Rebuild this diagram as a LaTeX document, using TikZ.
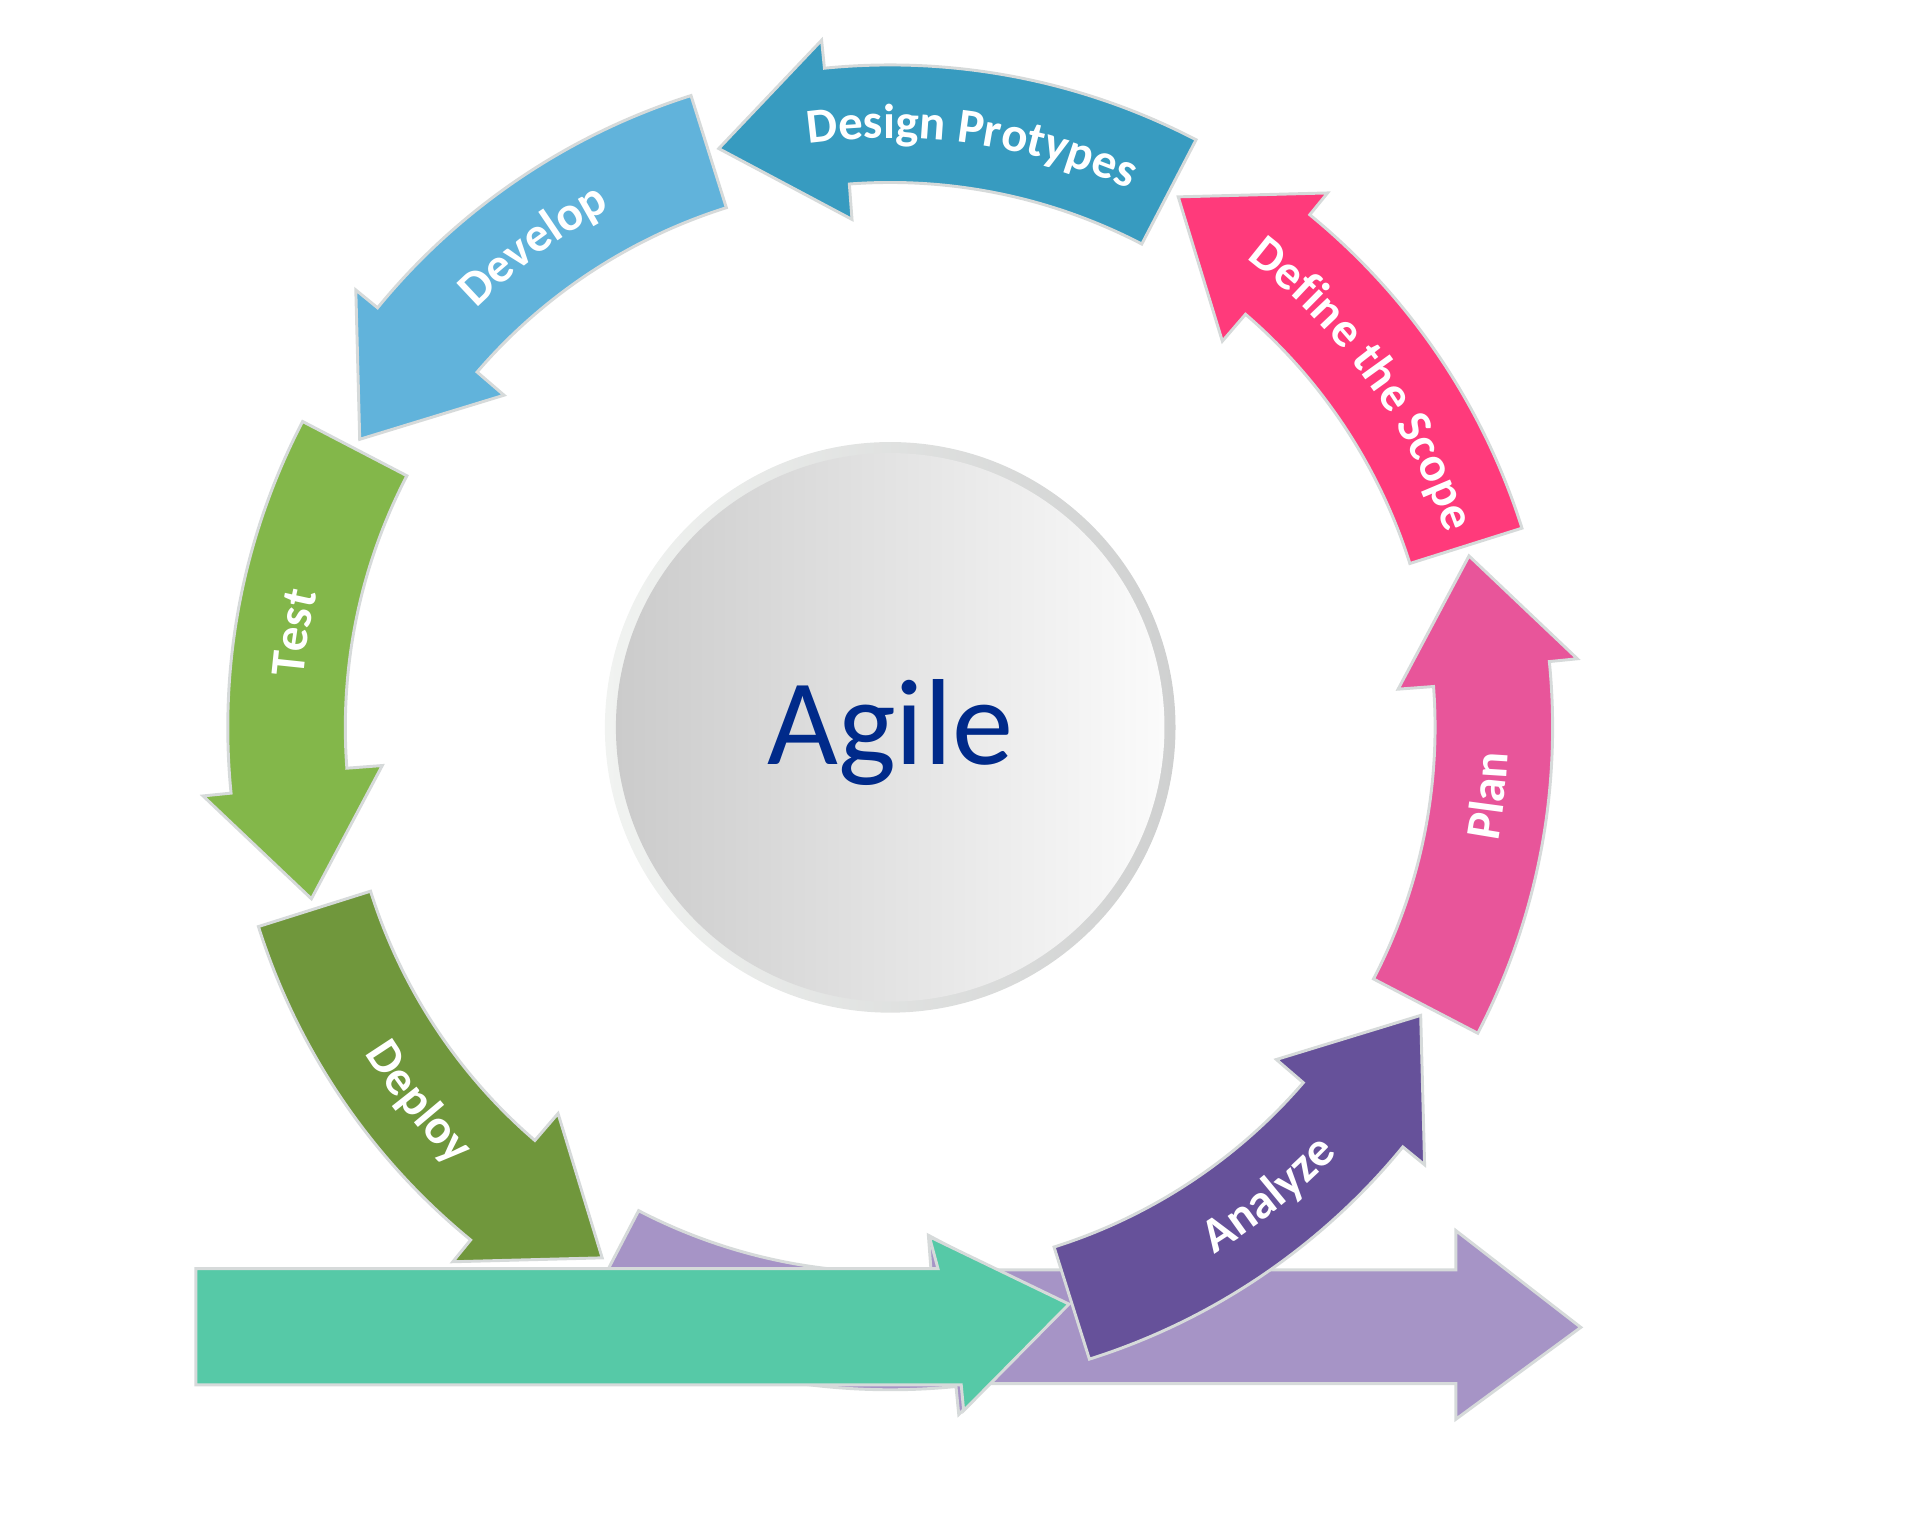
\documentclass[tikz,border=0pt]{standalone}
\usepackage{fontspec}
\setmainfont{Carlito}
\usetikzlibrary{decorations.text}
\definecolor{planpink}{HTML}{E8559A}
\definecolor{scopepink}{HTML}{FF3A7B}
\definecolor{designblue}{HTML}{379BC0}
\definecolor{devblue}{HTML}{61B3DB}
\definecolor{testgreen}{HTML}{83B74A}
\definecolor{deploygreen}{HTML}{70973C}
\definecolor{lilac}{HTML}{A694C6}
\definecolor{analyzepurple}{HTML}{66519A}
\definecolor{mint}{HTML}{56C9A7}
\definecolor{edgegray}{HTML}{D6DADA}
\definecolor{rimlight}{HTML}{F1F3F1}
\definecolor{rimdark}{HTML}{CFD0D0}
\definecolor{hubdark}{HTML}{CBCBCB}
\definecolor{hublight}{HTML}{FBFBFB}
\definecolor{agileblue}{HTML}{002A8A}
\newcommand\lblfont{\fontsize{20}{20}\selectfont\bfseries}
\newcommand\ringseg[2]{%
  \pgfmathsetmacro\segin{#1+31.8}\pgfmathsetmacro\segout{#1+33.2}\pgfmathsetmacro\segtip{#1+44}%
  \filldraw[seg,fill=#2] (#1:445) -- (#1:541) arc[start angle=#1,end angle=\segout,radius=541]
    -- (\segout:564) -- (\segtip:493) -- (\segin:416) -- (\segin:445)
    arc[start angle=\segin,end angle=#1,radius=445] -- cycle;}

\begin{document}
\begin{tikzpicture}[x=0.5pt,y=0.5pt,
    seg/.style={draw=edgegray,line width=1.2pt,line join=miter},
    lbl/.style={decorate,decoration={text along path,text align=center,text color=white,text={|\lblfont|#1}}}]
    \useasboundingbox (-727,-655) rectangle (841,594);

    \shade[left color=rimlight,right color=rimdark] (0,0) circle (233);
    \shade[left color=hubdark,right color=hublight] (0,0) circle (224);
    \node[anchor=base,text=agileblue,font=\fontsize{50}{50}\selectfont,inner sep=0pt] (agile) at (0,-30) {Agile};

    \ringseg{242.5}{lilac}
    \filldraw[seg,fill=lilac] (0,-443) -- (462,-443) -- (462,-411) -- (564,-490) -- (462,-565) -- (462,-536) -- (0,-536) -- cycle;
    \filldraw[seg,fill=mint] (-567,-442) -- (39,-442) -- (32,-416) -- (146,-471) -- (60,-558) -- (58,-537) -- (-567,-537) -- cycle;

    \foreach \t/\col in {-27.5/planpink,17.5/scopepink,62.5/designblue,107.5/devblue,152.5/testgreen,197.5/deploygreen,287.5/analyzepurple}
        \ringseg{\t}{\col};

    \path[lbl=Plan] (-31.5:505) arc[start angle=-31.5,end angle=18.5,radius=505];
    \path[lbl=Define the Scope] (61:481) arc[start angle=61,end angle=11,radius=481];
    \path[lbl=Design Protypes] (107:481) arc[start angle=107,end angle=57,radius=481];
    \path[lbl=Develop] (151.5:481) arc[start angle=151.5,end angle=101.5,radius=481];
    \path[lbl=Test] (196:481) arc[start angle=196,end angle=146,radius=481];
    \path[lbl=Deploy] (193.5:505) arc[start angle=193.5,end angle=243.5,radius=505];
    \path[lbl=Analyze] (284:505) arc[start angle=284,end angle=334,radius=505];
\end{tikzpicture}
\end{document}
